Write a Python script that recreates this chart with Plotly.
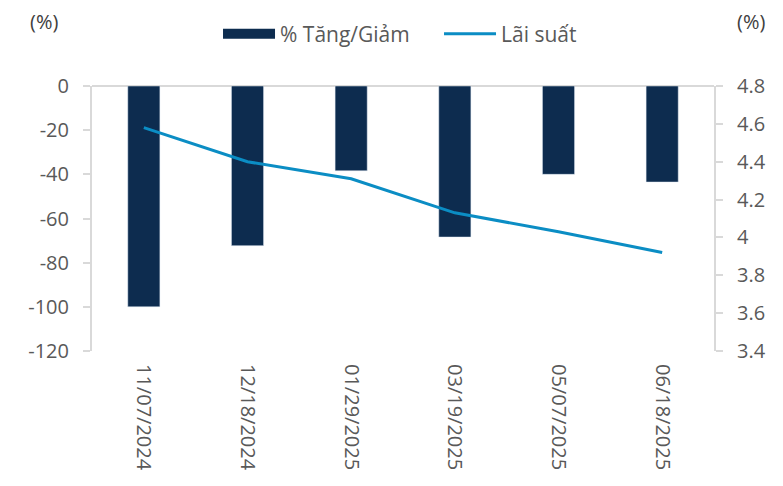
import plotly.graph_objects as go

dates = ["11/07/2024", "12/18/2024", "01/29/2025", "03/19/2025", "05/07/2025", "06/18/2025"]
pct_change = [-100, -72.3, -38.4, -68.4, -40, -43.5]
interest_rate = [4.58, 4.40, 4.31, 4.13, 4.03, 3.92]

left_ticks = [0, -20, -40, -60, -80, -100, -120]
left_labels = ["0", "-20", "-40", "-60", "-80", "-100", "-120"]
right_ticks = [4.8, 4.6, 4.4, 4.2, 4.0, 3.8, 3.6, 3.4]
right_labels = ["4.8", "4.6", "4.4", "4.2", "4", "3.8", "3.6", "3.4"]

bar_color = "#0d2c4f"
line_color = "#0b8dc4"
text_color = "#595959"
axis_color = "#d9d9d9"
font = dict(family="Open Sans", size=20, color=text_color)
legend_font = dict(family="Open Sans", size=21, color=text_color)
unit_font = dict(family="Open Sans", size=20, color="#404040")

fig = go.Figure()
fig.add_trace(
    go.Bar(
        x=dates,
        y=pct_change,
        name="% Tăng/Giảm",
        marker_color=bar_color,
        width=0.31,
        yaxis="y",
        showlegend=False,
        legendgroup="bar",
    )
)
# legend entry drawn as a wide block like the Excel swatch
fig.add_trace(
    go.Scatter(
        x=[None],
        y=[None],
        name="% Tăng/Giảm",
        mode="lines",
        line=dict(color=bar_color, width=14),
        legendgroup="bar",
    )
)
fig.add_trace(
    go.Scatter(
        x=dates,
        y=interest_rate,
        name="Lãi suất",
        mode="lines",
        line=dict(color=line_color, width=3),
        yaxis="y2",
    )
)

fig.update_layout(
    width=783,
    height=486,
    margin=dict(l=84, r=77, t=78, b=143, autoexpand=False),
    paper_bgcolor="white",
    plot_bgcolor="white",
    font=font,
    showlegend=True,
    legend=dict(
        orientation="h",
        x=0.2026,
        xanchor="left",
        y=1.196,
        yanchor="middle",
        font=legend_font,
        traceorder="normal",
        itemwidth=52,
        entrywidth=154,
    ),
    xaxis=dict(
        type="category",
        tickangle=90,
        showgrid=False,
        showline=False,
        ticks="",
        ticklabelstandoff=12,
        tickfont=font,
    ),
    yaxis=dict(
        range=[-120, 0],
        tickvals=left_ticks,
        ticktext=left_labels,
        showgrid=False,
        zeroline=True,
        zerolinecolor=axis_color,
        zerolinewidth=2,
        showline=True,
        linecolor=axis_color,
        linewidth=2,
        ticks="outside",
        tickcolor=axis_color,
        ticklen=7,
        tickwidth=2,
        ticklabelstandoff=10,
        tickfont=font,
    ),
    yaxis2=dict(
        range=[3.4, 4.8],
        tickvals=right_ticks,
        ticktext=right_labels,
        overlaying="y",
        side="right",
        showgrid=False,
        zeroline=False,
        showline=True,
        linecolor=axis_color,
        linewidth=2,
        ticks="outside",
        tickcolor=axis_color,
        ticklen=7,
        tickwidth=2,
        ticklabelstandoff=10,
        tickfont=font,
    ),
    annotations=[
        dict(text="(%)", xref="paper", yref="paper", x=-0.077, y=1.245,
             xanchor="center", yanchor="middle", showarrow=False, font=unit_font),
        dict(text="(%)", xref="paper", yref="paper", x=1.059, y=1.245,
             xanchor="center", yanchor="middle", showarrow=False, font=unit_font),
    ],
)

fig.write_html("out.html")
